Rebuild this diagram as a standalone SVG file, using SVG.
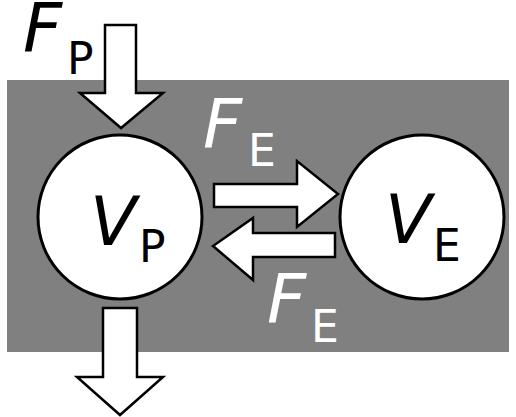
<svg xmlns="http://www.w3.org/2000/svg" width="516" height="417" viewBox="0 0 516 417">
  <style>
    .arrow { fill: #ffffff; stroke: #000000; stroke-width: 2.5; stroke-linejoin: miter; }
    .pool { fill: #ffffff; stroke: #000000; stroke-width: 3; }
    .main { font-family: "DejaVu Sans", "Liberation Sans", sans-serif; font-style: italic; font-size: 68px; }
    .sub { font-family: "DejaVu Sans", "Liberation Sans", sans-serif; font-style: normal; font-size: 44px; }
    .dark { fill: #000000; }
    .light { fill: #ffffff; }
  </style>

  <!-- compartment background -->
  <rect id="background" x="7" y="80" width="502" height="272" fill="#808080"/>

  <g id="connectors">
    <!-- inflow from above -->
    <polygon class="arrow" points="105,25 136,25 136,93 163,93 121,128 80,93 105,93"/>
    <!-- outflow below -->
    <polygon class="arrow" points="103,308 137,308 137,377 163,377 120,415 77,377 103,377"/>
    <!-- exchange P to E -->
    <polygon class="arrow" points="214,184 297,184 297,161 338,194 297,227 297,207 214,207"/>
    <!-- exchange E to P -->
    <polygon class="arrow" points="335,233 253,233 253,218 213,246 253,280 253,257 335,257"/>
  </g>

  <g id="node-vp">
    <circle class="pool" cx="120" cy="217" r="82"/>
    <text class="main dark" x="90" y="245">V<tspan class="sub" x="139" y="262">P</tspan></text>
  </g>

  <g id="node-ve">
    <circle class="pool" cx="422" cy="217" r="82"/>
    <text class="main dark" x="385" y="243">V<tspan class="sub" x="433" y="261">E</tspan></text>
  </g>

  <g id="labels">
    <text class="main dark" x="23" y="52" font-size="64">F<tspan class="sub" x="67" y="74">P</tspan></text>
    <text class="main light" x="203" y="148">F<tspan class="sub" x="248" y="166">E</tspan></text>
    <text class="main light" x="267" y="323">F<tspan class="sub" x="311" y="342">E</tspan></text>
  </g>
</svg>
